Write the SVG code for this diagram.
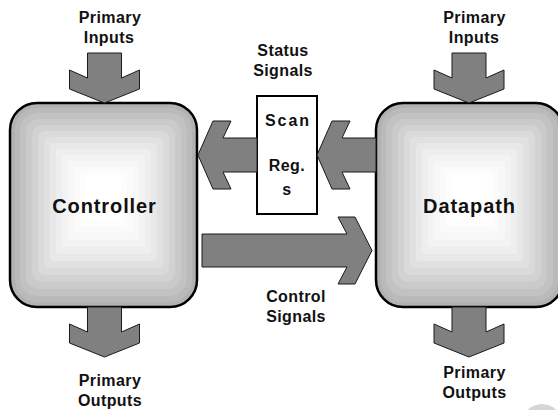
<svg xmlns="http://www.w3.org/2000/svg" xmlns:xlink="http://www.w3.org/1999/xlink" width="558" height="410" viewBox="0 0 558 410">
  <style>
    .t { font-family: "Liberation Sans", Arial, sans-serif; font-weight: bold; font-size: 16px; letter-spacing: 0.4px; fill: #111; text-anchor: middle; }
    .big { font-size: 20px; letter-spacing: 0.9px; }
    .scan { letter-spacing: 2px; }
    .arrow { fill: #808080; stroke: #1a1a1a; stroke-width: 1; stroke-linejoin: miter; }
    .outline { fill: none; stroke: #000; stroke-width: 2.5; }
  </style>
  <defs>
    <g id="boxfill">
      <rect x="0" y="0" width="187" height="204" rx="27" fill="#b2b2b2"/>
      <rect x="5" y="5" width="177" height="194" rx="22" fill="#bababa"/>
      <rect x="10" y="10" width="167" height="183" rx="17" fill="#c2c2c2"/>
      <rect x="16" y="16" width="155" height="170" rx="13" fill="#cacaca"/>
      <rect x="22" y="22" width="143" height="157" rx="10" fill="#d2d2d2"/>
      <rect x="28" y="28" width="131" height="144" rx="7" fill="#dadada"/>
      <rect x="34" y="34" width="119" height="131" rx="5" fill="#e1e1e1"/>
      <rect x="40" y="40" width="107" height="118" rx="4" fill="#e8e8e8"/>
      <rect x="46" y="46" width="95" height="105" rx="3" fill="#eeeeee"/>
      <rect x="52" y="52" width="83" height="92" rx="3" fill="#f3f3f3"/>
      <rect x="58" y="58" width="71" height="79" rx="2" fill="#f7f7f7"/>
      <rect x="64" y="63" width="59" height="67" rx="2" fill="#fafafa"/>
      <rect x="70" y="68" width="47" height="55" rx="2" fill="#fdfdfd"/>
      <rect x="76" y="73" width="35" height="43" rx="2" fill="#ffffff"/>
    </g>
  </defs>

  <rect x="0" y="0" width="558" height="410" fill="#ffffff"/>

  <g id="controller">
    <use xlink:href="#boxfill" x="10" y="103"/>
    <rect class="outline" x="10" y="103" width="187" height="204" rx="27"/>
    <text class="t big" x="104.5" y="213">Controller</text>
  </g>

  <g id="datapath">
    <use xlink:href="#boxfill" x="376" y="103"/>
    <rect class="outline" x="376" y="103" width="187" height="204" rx="27"/>
    <text class="t big" x="469.5" y="213">Datapath</text>
  </g>

  <g id="scanregs">
    <rect x="257" y="96" width="60" height="118" fill="#ffffff" stroke="#000" stroke-width="2"/>
    <text class="t scan" x="288" y="126">Scan</text>
    <text class="t" x="287" y="171">Reg.</text>
    <text class="t" x="287" y="195">s</text>
  </g>

  <g id="connectors">
    <polygon class="arrow" points="87.5,53 121.5,53 121.5,78 139.5,70 139.5,89 104.5,103 69.5,89 69.5,70 87.5,78"/>
    <polygon class="arrow" points="452,53 486,53 486,78 504,70 504,89 469,103 434,89 434,70 452,78"/>
    <polygon class="arrow" points="87.5,307 121.5,307 121.5,332 139.5,324 139.5,343 104.5,357 69.5,343 69.5,324 87.5,332"/>
    <polygon class="arrow" points="452,307 486,307 486,332 504,324 504,343 469,357 434,343 434,324 452,332"/>
    <polygon class="arrow" points="257,138 223,138 231,121 213,121 198,155 213,189 231,189 223,172 257,172"/>
    <polygon class="arrow" points="376,138 342,138 350,121 332,121 317,155 332,189 350,189 342,172 376,172"/>
    <polygon class="arrow" points="202,234 347,234 338,217 355,217 372,250.5 355,284 338,284 347,267 202,267"/>
  </g>

  <g id="labels">
    <text class="t" x="110" y="23">Primary</text>
    <text class="t" x="109" y="43">Inputs</text>
    <text class="t" x="474.5" y="23">Primary</text>
    <text class="t" x="474" y="43">Inputs</text>
    <text class="t" x="283" y="56">Status</text>
    <text class="t" x="283" y="76">Signals</text>
    <text class="t" x="296" y="302">Control</text>
    <text class="t" x="296" y="322">Signals</text>
    <text class="t" x="110" y="386">Primary</text>
    <text class="t" x="110" y="406">Outputs</text>
    <text class="t" x="474.5" y="378">Primary</text>
    <text class="t" x="474.5" y="398">Outputs</text>
  </g>

  <circle cx="542" cy="424" r="20" fill="#d6d6d6"/>
</svg>
